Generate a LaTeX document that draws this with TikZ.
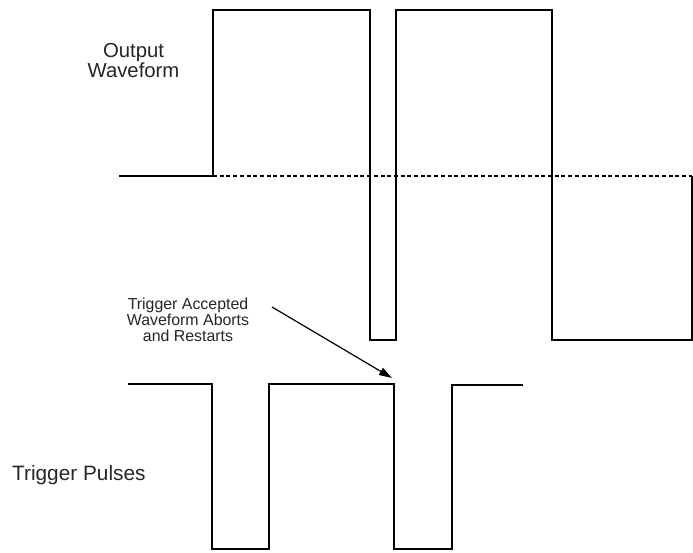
\documentclass[tikz,border=0pt]{standalone}
\usepackage{fontspec}
\setmainfont{Liberation Sans}
\usetikzlibrary{arrows.meta}
\begin{document}
\begin{tikzpicture}[x=1pt,y=-1pt,
  wave/.style={line width=1.4pt, line join=miter},
  zero/.style={line width=1.3pt, dash pattern=on 4pt off 2.7pt},
  lbl/.style={inner sep=0pt, align=center, text=black!85},
  pointer/.style={line width=1.2pt, -{Triangle[length=13pt,width=8pt]}}]
\useasboundingbox (0,0) rectangle (693,553);
% labels
\node[lbl, anchor=north, font=\fontsize{20.3}{15.5}\selectfont] (outlbl) at (133.5,43) {Output\\Waveform};
\node[lbl, anchor=north, font=\fontsize{15.9}{16.3}\selectfont] (acclbl) at (188,297.5) {Trigger Accepted\\Waveform Aborts\\and Restarts};
\node[lbl, anchor=base west, font=\fontsize{20.8}{24}\selectfont] (trglbl) at (12,480) {Trigger Pulses};
% output waveform
\coordinate (o0) at (119,176);
\coordinate (o1) at (213,176);
\coordinate (oE) at (692,176);
\draw[wave] (o0) -- (o1) -- (213,10) -- (370,10) -- (370,340) -- (396,340)
  -- (396,10) -- (552,10) -- (552,340) -- (692,340) -- (oE);
\draw[zero] (o1) -- (oE);
% trigger pulses
\coordinate (t0) at (128,384);
\coordinate (tr) at (394,384);
\draw[wave] (t0) -- (212,384) -- (212,549) -- (269,549) -- (269,384) -- (tr)
  -- (394,549) -- (452,549) -- (452,385) -- (523,385);
% pointer
\coordinate (arrS) at (272,307);
\coordinate (arrE) at (392,378);
\draw[pointer] (arrS) -- (arrE);
\end{tikzpicture}
\end{document}
